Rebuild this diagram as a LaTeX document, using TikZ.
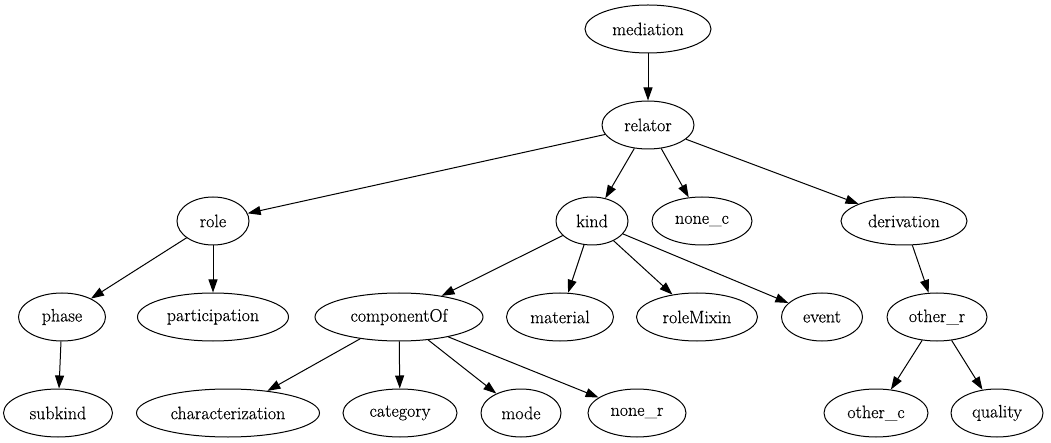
\documentclass[tikz,border=0pt]{standalone}
\usepackage{fontspec}
\newfontfamily\labelfont{Latin Modern Roman}[FakeBold=0.35]
\usetikzlibrary{shapes.geometric,arrows.meta}
\begin{document}
\begin{tikzpicture}[x=1pt,y=-1pt,
  vnode/.style={ellipse,draw,line width=1pt,inner sep=0pt,minimum height=48pt,
    font=\labelfont\fontsize{18}{21}\selectfont},
  conn/.style={-{Triangle[length=13pt,width=9pt]},line width=1pt}]
\useasboundingbox (0,0) rectangle (1051,443);

% rank 1
\node[vnode,minimum width=126pt] (mediation) at (648,29) {mediation};
% rank 2
\node[vnode,minimum width=92pt] (relator) at (648,125) {relator};
% rank 3
\node[vnode,minimum width=72pt] (role) at (213,221) {role};
\node[vnode,minimum width=72pt] (kind) at (592,221) {kind};
\node[vnode,minimum width=100pt] (nonec) at (702,221) {none\_c};
\node[vnode,minimum width=126pt] (derivation) at (904,221) {derivation};
% rank 4
\node[vnode,minimum width=87pt] (phase) at (62,317) {phase};
\node[vnode,minimum width=151pt] (participation) at (213,317) {participation};
\node[vnode,minimum width=168pt] (componentOf) at (399,317) {componentOf};
\node[vnode,minimum width=107pt] (material) at (560,317) {material};
\node[vnode,minimum width=121pt] (roleMixin) at (697,317) {roleMixin};
\node[vnode,minimum width=81pt] (event) at (822,317) {event};
\node[vnode,minimum width=100pt] (otherr) at (937,317) {other\_r};
% rank 5
\node[vnode,minimum width=109pt] (subkind) at (58,413) {subkind};
\node[vnode,minimum width=183pt] (characterization) at (228,413) {characterization};
\node[vnode,minimum width=114pt] (category) at (400,413) {category};
\node[vnode,minimum width=80pt] (mode) at (521,413) {mode};
\node[vnode,minimum width=98pt] (noner) at (637,413) {none\_r};
\node[vnode,minimum width=104pt] (otherc) at (876,413) {other\_c};
\node[vnode,minimum width=92pt] (quality) at (997,413) {quality};

% edges
\draw[conn] (mediation) -- (relator);
\draw[conn] (relator) -- (role);
\draw[conn] (relator) -- (kind);
\draw[conn] (relator) -- (nonec);
\draw[conn] (relator) -- (derivation);
\draw[conn] (role) -- (phase);
\draw[conn] (role) -- (participation);
\draw[conn] (phase) -- (subkind);
\draw[conn] (kind) -- (componentOf);
\draw[conn] (kind) -- (material);
\draw[conn] (kind) -- (roleMixin);
\draw[conn] (kind) -- (event);
\draw[conn] (componentOf) -- (characterization);
\draw[conn] (componentOf) -- (category);
\draw[conn] (componentOf) -- (mode);
\draw[conn] (componentOf) -- (noner);
\draw[conn] (derivation) -- (otherr);
\draw[conn] (otherr) -- (otherc);
\draw[conn] (otherr) -- (quality);
\end{tikzpicture}
\end{document}
